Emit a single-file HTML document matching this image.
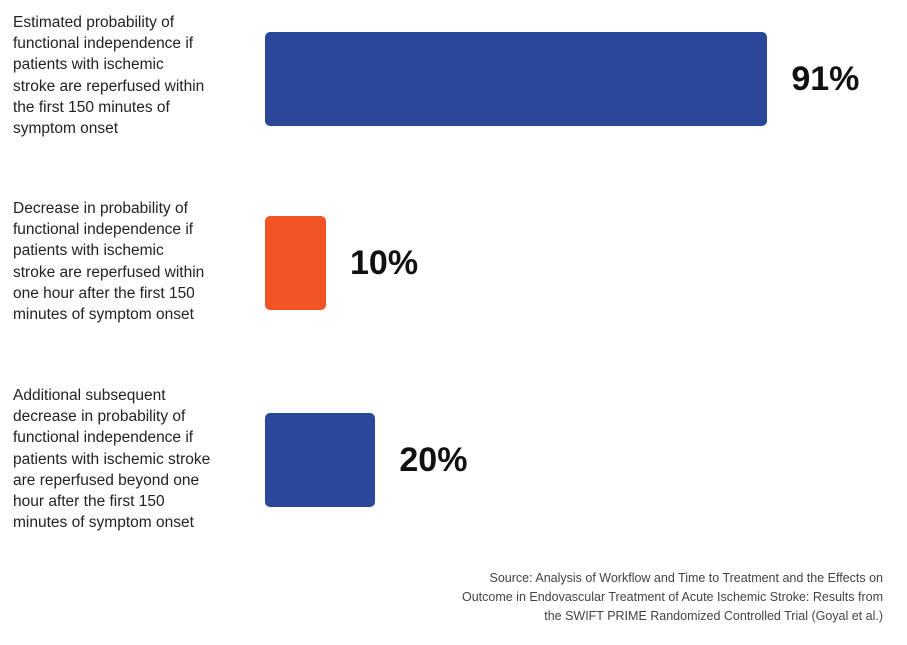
<!DOCTYPE html>
<html><head><meta charset="utf-8">
<style>
body{margin:0;width:907px;height:645px;background:#fff;font-family:"Liberation Sans",sans-serif;position:relative;overflow:hidden}
.lbl{position:absolute;left:13px;width:240px;font-size:15.5px;line-height:21.2px;color:#222}
.bar{position:absolute;left:265px;border-radius:5px}
.val{position:absolute;font-size:34px;font-weight:bold;color:#111;line-height:40px}
.src{position:absolute;right:24px;top:569px;text-align:right;font-size:12.5px;line-height:19px;color:#444}
</style></head><body>
<div id="chart"></div>
<div class="src">Source: Analysis of Workflow and Time to Treatment and the Effects on<br>Outcome in Endovascular Treatment of Acute Ischemic Stroke: Results from<br>the SWIFT PRIME Randomized Controlled Trial (Goyal et al.)</div>
<script>
const categories=["Estimated probability of<br>functional independence if<br>patients with ischemic<br>stroke are reperfused within<br>the first 150 minutes of<br>symptom onset","Decrease in probability of<br>functional independence if<br>patients with ischemic<br>stroke are reperfused within<br>one hour after the first 150<br>minutes of symptom onset","Additional subsequent<br>decrease in probability of<br>functional independence if<br>patients with ischemic stroke<br>are reperfused beyond one<br>hour after the first 150<br>minutes of symptom onset"];
const values=[91,10,20];
const valueLabels=["91%","10%","20%"];
const colors=["#2b479a","#f15425","#2b479a"];
const x=v=>v*5.52;
const barTops=[32,216,413];
const labelTops=[12,198,385];
const root=document.getElementById('chart');
values.forEach((v,i)=>{
  const l=document.createElement('div');
  l.className='lbl';l.style.top=labelTops[i]+'px';l.innerHTML=categories[i];
  
  
  root.appendChild(l);
  const b=document.createElement('div');
  b.className='bar';b.style.top=barTops[i]+'px';b.style.height='94px';
  b.style.width=Math.max(x(v),61)+'px';b.style.background=colors[i];
  
  
  root.appendChild(b);
  const t=document.createElement('div');
  t.className='val';t.style.top=(barTops[i]+27)+'px';
  t.style.left=(265+Math.max(x(v),61)+24)+'px';t.textContent=valueLabels[i];
  
  
  root.appendChild(t);
});
</script>
</body></html>
